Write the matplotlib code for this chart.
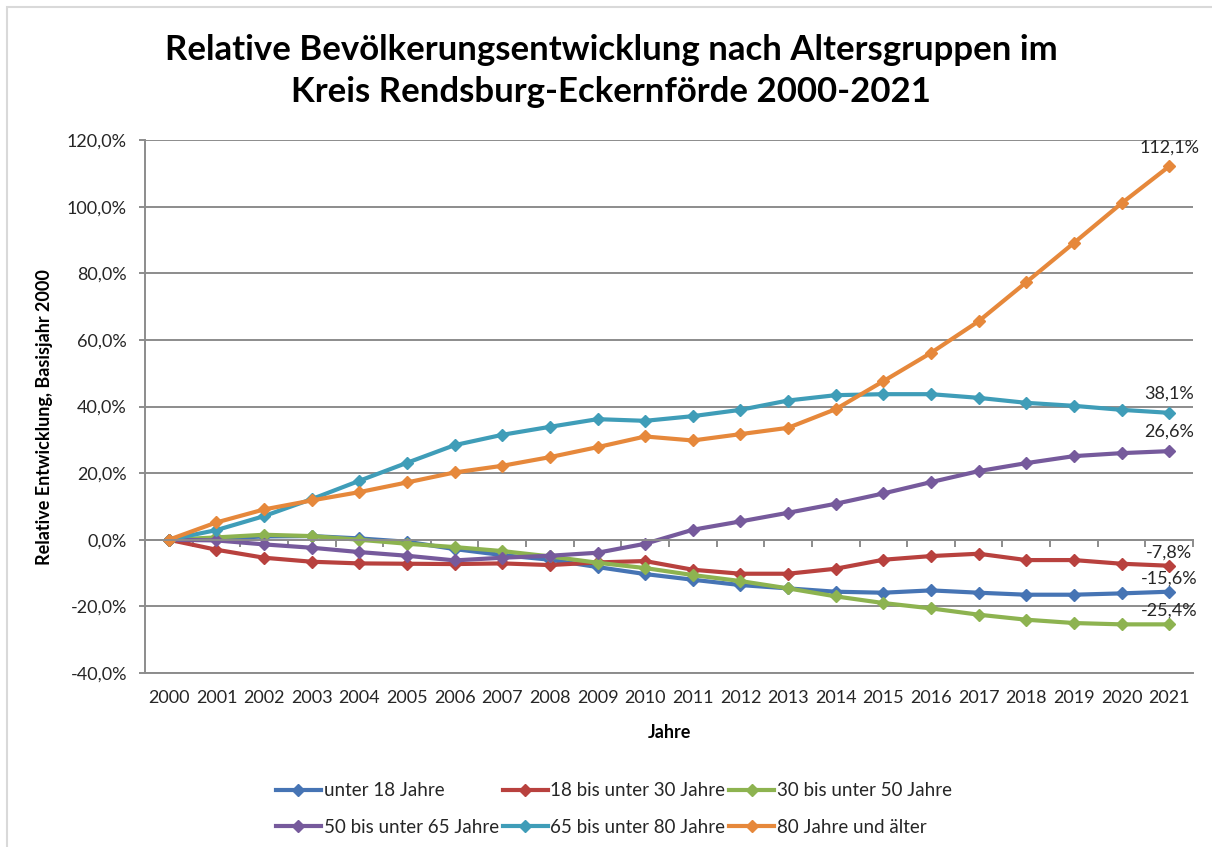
import matplotlib.pyplot as plt
from matplotlib.ticker import FuncFormatter
from matplotlib.patches import Rectangle
import numpy as np

plt.rcParams['font.family'] = ['Lato', 'DejaVu Sans']

years = [str(y) for y in range(2000, 2022)]

unter18 = [0, 0.3, 1.0, 1.1, 0.4, -0.6, -2.8, -4.6, -6.0, -8.2, -10.3, -12.0,
           -13.6, -14.6, -15.6, -15.9, -15.2, -15.9, -16.5, -16.5, -16.1, -15.6]
a18_30 = [0, -3.0, -5.4, -6.6, -7.1, -7.2, -7.3, -7.1, -7.6, -6.8, -6.4, -9.0,
          -10.2, -10.2, -8.7, -6.0, -4.9, -4.2, -6.1, -6.1, -7.2, -7.8]
a30_50 = [0, 0.7, 1.5, 1.1, 0.0, -1.2, -2.2, -3.4, -5.0, -6.9, -8.5, -10.6,
          -12.4, -14.6, -17.0, -19.0, -20.6, -22.5, -24.0, -25.0, -25.4, -25.4]
a50_65 = [0, -0.2, -1.4, -2.4, -3.7, -4.8, -6.2, -5.4, -4.8, -3.9, -1.2, 3.0,
          5.5, 8.1, 10.8, 13.9, 17.3, 20.6, 23.0, 25.1, 26.0, 26.6]
a65_80 = [0, 2.9, 7.1, 12.2, 17.7, 23.1, 28.4, 31.5, 33.9, 36.2, 35.7, 37.1,
          39.0, 41.8, 43.4, 43.7, 43.7, 42.6, 41.1, 40.2, 39.0, 38.1]
a80 = [0, 5.2, 9.1, 11.8, 14.3, 17.2, 20.2, 22.2, 24.8, 27.8, 31.0, 29.8,
       31.7, 33.6, 39.2, 47.6, 56.1, 65.6, 77.3, 89.1, 101.0, 112.1]

series = [
    ("unter 18 Jahre", unter18, "#4674b4"),
    ("18 bis unter 30 Jahre", a18_30, "#b8413e"),
    ("30 bis unter 50 Jahre", a30_50, "#8db350"),
    ("50 bis unter 65 Jahre", a50_65, "#765a9c"),
    ("65 bis unter 80 Jahre", a65_80, "#3f9db8"),
    ("80 Jahre und älter", a80, "#e6883b"),
]

grid_col = "#8c8c8c"
txt_col = "#262626"

fig = plt.figure(figsize=(12.12, 8.47), dpi=100)
ax = fig.add_axes([145 / 1212, 174 / 847, 1048 / 1212, 533 / 847])

x = np.arange(len(years))
handles = []
for name, vals, col in series:
    h, = ax.plot(x, vals, color=col, lw=3, marker="D", ms=6.5, label=name,
                 solid_joinstyle="round")
    handles.append(h)
    v = vals[-1]
    ax.annotate(f"{v:.1f}%".replace(".", ","), (x[-1], v),
                xytext=(0, 8 if v > 0 else 4), textcoords="offset points",
                ha="center", va="bottom", fontsize=13, color=txt_col)

ax.set_xlim(-0.5, len(years) - 0.5)
ax.set_ylim(-40, 120)
ax.set_yticks(np.arange(-40, 121, 20))
ax.yaxis.set_major_formatter(FuncFormatter(lambda v, p: f"{v:.1f}%".replace(".", ",")))
ax.yaxis.grid(True, color=grid_col, lw=1.4)
ax.set_axisbelow(True)

for s in ["top", "right"]:
    ax.spines[s].set_visible(False)
ax.spines["left"].set_color(grid_col)
ax.spines["left"].set_linewidth(1.4)
ax.spines["bottom"].set_position(("data", 0))
ax.spines["bottom"].set_color(grid_col)
ax.spines["bottom"].set_linewidth(1.4)
ax.set_xticks(np.arange(-0.5, len(years)))
ax.set_xticklabels([])
ax.tick_params(axis="x", length=5, color=grid_col, width=1.4)
ax.tick_params(axis="y", length=4, color=grid_col, width=1.4, pad=9,
               labelsize=13, labelcolor=txt_col)

sec = ax.secondary_xaxis("bottom")
sec.set_xticks(x)
sec.set_xticklabels(years)
sec.tick_params(length=0, pad=12, labelsize=13, labelcolor=txt_col)
sec.spines["bottom"].set_color(grid_col)
sec.spines["bottom"].set_linewidth(1.4)

fig.text(669 / 1212, 1 - 732 / 847, "Jahre", ha="center", va="center",
         fontsize=13, fontweight="bold", color="black")
fig.text(45 / 1212, 1 - 417 / 847, "Relative Entwicklung, Basisjahr 2000",
         ha="center", va="center", rotation=90, fontsize=13,
         fontweight="bold", color="black")

fig.text(611 / 1212, 1 - 71 / 847,
         "Relative Bevölkerungsentwicklung nach Altersgruppen im\n"
         "Kreis Rendsburg-Eckernförde 2000-2021",
         ha="center", va="center", fontsize=25, fontweight="bold",
         linespacing=1.42)

order = [0, 3, 1, 4, 2, 5]
fig.legend([handles[i] for i in order], [handles[i].get_label() for i in order],
           ncol=3, loc="center", bbox_to_anchor=(614 / 1212, 1 - 809 / 847),
           frameon=False, fontsize=13.5, handlelength=2.4, handletextpad=0.15,
           columnspacing=0.2, labelspacing=1.05, labelcolor=txt_col)

fig.patches.append(Rectangle((7 / 1212, -0.1), 1.2, 1 - 7 / 847 + 0.1,
                             transform=fig.transFigure, fill=False,
                             edgecolor="#d9d9d9", lw=1.5))

fig.savefig("out.png", dpi=100)
